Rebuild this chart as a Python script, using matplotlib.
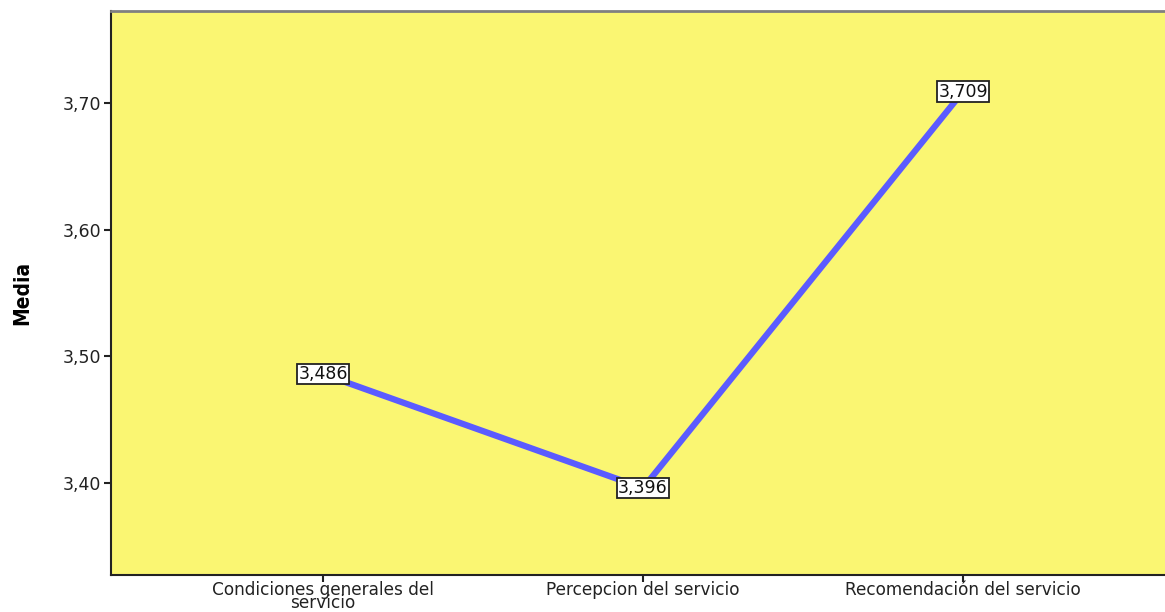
import matplotlib
matplotlib.use("Agg")
import matplotlib.pyplot as plt

categories = ["Condiciones generales del\nservicio", "Percepcion del servicio", "Recomendación del servicio"]
values = [3.486, 3.396, 3.709]
value_labels = ["3,486", "3,396", "3,709"]
yticks = [3.40, 3.50, 3.60, 3.70]
ytick_labels = ["3,40", "3,50", "3,60", "3,70"]

fig = plt.figure(figsize=(11.65, 6.12), dpi=100)
ax = fig.add_axes([111/1165, 1-575/612, (1175-111)/1165, (575-11)/612])
ax.set_facecolor("#FAF672")

x = list(range(len(values)))
ax.plot(x, values, color="#5B5BFF", linewidth=4.5, solid_capstyle="butt", zorder=2)
for xi, v, lab in zip(x, values, value_labels):
    ax.text(xi, v, lab, ha="center", va="center", fontsize=12.5, color="#111111",
            zorder=3,
            bbox=dict(boxstyle="square,pad=0.08", facecolor="white", edgecolor="#222222", linewidth=1.3))

ax.set_xlim(-0.6625, 2.6625)
ax.set_ylim(3.3274, 3.7726)
ax.set_xticks(x)
ax.set_xticklabels(categories, fontsize=12.2, color="#222222", linespacing=0.7)
ax.set_yticks(yticks)
ax.set_yticklabels(ytick_labels, fontsize=12.5, color="#222222")
ax.tick_params(axis="both", direction="out", length=5, width=1.5, color="#222222", pad=2)
ax.tick_params(axis="x", pad=-1)

for s in ["left", "bottom"]:
    ax.spines[s].set_color("#222222")
    ax.spines[s].set_linewidth(1.5)
ax.spines["top"].set_color("#808080")
ax.spines["top"].set_linewidth(2)
ax.spines["right"].set_visible(False)

fig.text(22/1165, 1-293/612, "Media", rotation=90, ha="center", va="center",
         fontsize=15, fontweight="bold", fontstretch="condensed",
         family=["DejaVu Sans"], color="black")

fig.savefig("out.png", dpi=100, facecolor="white")
